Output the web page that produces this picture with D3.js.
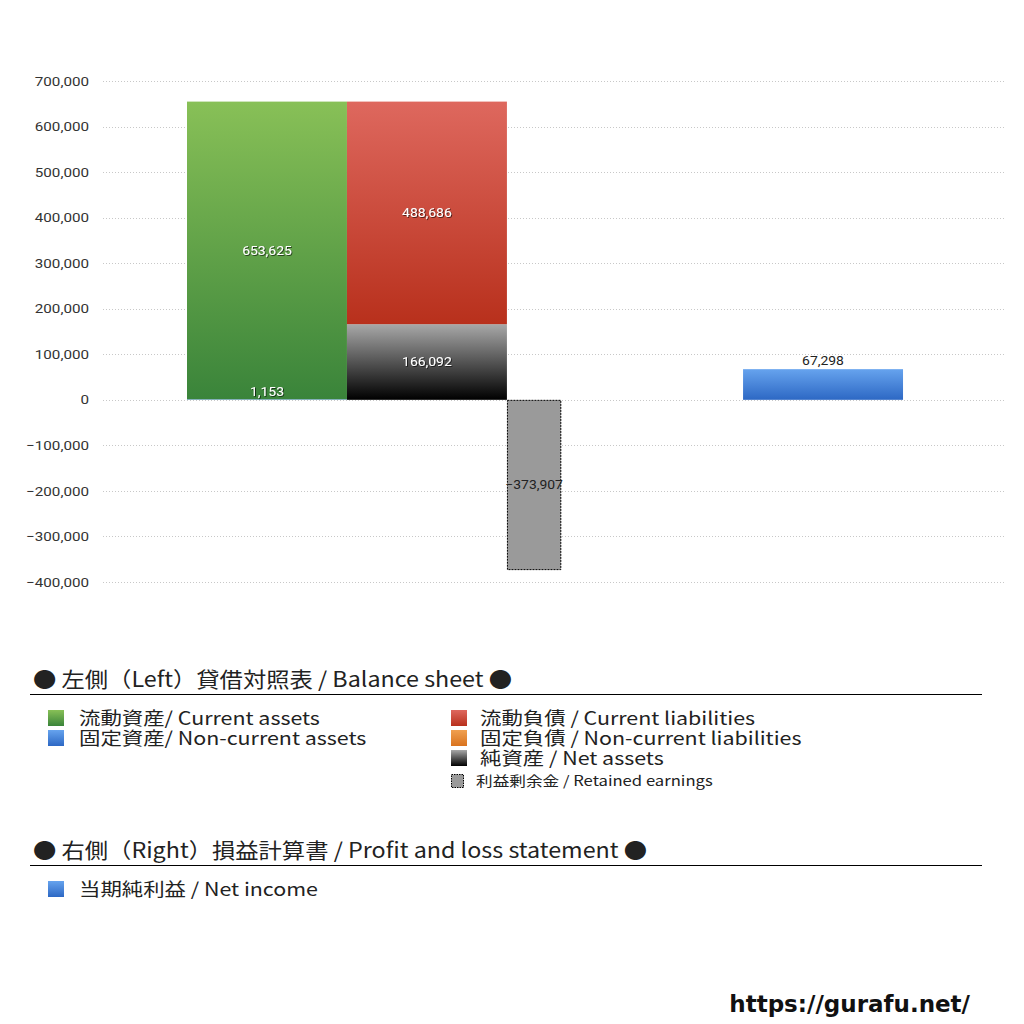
<!DOCTYPE html>
<html><head><meta charset="utf-8">
<script src="https://cdn.jsdelivr.net/npm/d3@7"></script>
<style>
body{margin:0;background:#fff;}
svg{display:block;font-family:"Noto Sans CJK JP","Noto Sans",sans-serif;}
</style></head>
<body><svg id="c" width="1024" height="1024"></svg>
<script>
// ---- data ----
const groups = ["left", "right"];
const currentAssets = 653625;
const nonCurrentAssets = 1153;
const currentLiabilities = 488686;
const nonCurrentLiabilities = 0;
const netAssets = 166092;
const retainedEarnings = -373907;
const netIncome = 67298;
const yTicks = [-400000, -300000, -200000, -100000, 0, 100000, 200000, 300000, 400000, 500000, 600000, 700000];
const legendLeftCol = ["流動資産/ Current assets", "固定資産/ Non-current assets"];
const legendRightCol = ["流動負債 /  Current liabilities", "固定負債 / Non-current liabilities", "純資産 / Net assets"];
const legendRetained = "利益剰余金 / Retained earnings";
const legendPL = ["当期純利益 / Net income"];
const header1 = "● 左側（Left）貸借対照表 / Balance sheet ●";
const header2 = "● 右側（Right）損益計算書 / Profit and loss statement ●";
const siteUrl = "https://gurafu.net/";

const svg = d3.select("#c");
const fmt = d3.format(",");
const plotL = 103, plotR = 1005;

const y = d3.scaleLinear().domain([-400000, 700000]).range([582, 81]);
const x = d3.scaleBand().domain(groups).range([187, 983]).paddingInner(0.328);
const bw = x.bandwidth() / 2;

// horizontal stretch of text about its anchor point
function stretch(sel, s) {
  sel.each(function () {
    const t = d3.select(this);
    const ax = +t.attr("x") || 0;
    const prev = t.attr("transform") || "";
    t.attr("transform", `${prev} translate(${ax},0) scale(${s},1) translate(${-ax},0)`);
  });
}

// gradients
const defs = svg.append("defs");
function grad(id, top, bottom) {
  const g = defs.append("linearGradient").attr("id", id).attr("x1", 0).attr("y1", 0).attr("x2", 0).attr("y2", 1);
  g.append("stop").attr("offset", "0%").attr("stop-color", top);
  g.append("stop").attr("offset", "100%").attr("stop-color", bottom);
}
grad("gGreen", "#88c057", "#3a843a");
grad("gBlue", "#66a3ee", "#2d68c4");
grad("gRed", "#de685e", "#b8301c");
grad("gOrange", "#f0a050", "#d9731e");
grad("gBlack", "#a8a8a8", "#000000");
const sh = defs.append("filter").attr("id", "shadow").attr("x", "-20%").attr("y", "-50%").attr("width", "140%").attr("height", "200%");
sh.append("feDropShadow").attr("dx", 0.8).attr("dy", 0.8).attr("stdDeviation", 0.4).attr("flood-color", "#000").attr("flood-opacity", 0.7);

// grid + y axis
const yAxis = d3.axisLeft(y).tickValues(yTicks).tickFormat(fmt).tickSize(0).tickPadding(14);
const ga = svg.append("g").attr("transform", `translate(${plotL},0)`).call(yAxis);
ga.select(".domain").remove();
ga.selectAll("text").attr("font-size", 13).attr("fill", "#333").attr("font-family", "Roboto, 'Noto Sans', sans-serif");
ga.selectAll(".tick text").each(function () {
  const t = d3.select(this);
  t.attr("transform", "scale(1.17,1)").attr("x", -14 / 1.17);
});
svg.append("g").selectAll("line").data(yTicks).join("line")
  .attr("x1", plotL).attr("x2", plotR).attr("y1", d => Math.round(y(d)) + 0.5).attr("y2", d => Math.round(y(d)) + 0.5)
  .attr("stroke", "#c8c8c8").attr("stroke-width", 1).attr("stroke-dasharray", "1,2");

// bars
const leftX = x("left");
const rightX = x("right") + x.bandwidth() / 4;
const segs = [
  {x: leftX, y0: 0, y1: nonCurrentAssets, fill: "url(#gBlue)", label: fmt(nonCurrentAssets), lc: "#fff", lab: "nca"},
  {x: leftX, y0: nonCurrentAssets, y1: nonCurrentAssets + currentAssets, fill: "url(#gGreen)", label: fmt(currentAssets), lc: "#fff"},
  {x: leftX + bw, y0: 0, y1: netAssets, fill: "url(#gBlack)", label: fmt(netAssets), lc: "#fff"},
  {x: leftX + bw, y0: netAssets, y1: netAssets + nonCurrentLiabilities, fill: "url(#gOrange)", label: null},
  {x: leftX + bw, y0: netAssets + nonCurrentLiabilities, y1: netAssets + nonCurrentLiabilities + currentLiabilities, fill: "url(#gRed)", label: fmt(currentLiabilities), lc: "#fff"}
];
const bars = svg.append("g");
bars.selectAll("rect").data(segs.filter(d => d.y1 !== d.y0)).join("rect")
  .attr("x", d => d.x).attr("width", bw)
  .attr("y", d => y(Math.max(d.y0, d.y1))).attr("height", d => Math.abs(y(d.y0) - y(d.y1)))
  .attr("fill", d => d.fill);

// retained earnings
const reW = bw * 0.34;
const reX = leftX + 2 * bw;
svg.append("rect").attr("x", reX + 0.5).attr("y", y(0) + 0.5).attr("width", reW - 1).attr("height", y(retainedEarnings) - y(0) - 1)
  .attr("fill", "#9a9a9a").attr("stroke", "#000").attr("stroke-width", 1).attr("stroke-dasharray", "2,1");

// net income
svg.append("rect").attr("x", rightX).attr("width", bw).attr("y", y(netIncome)).attr("height", y(0) - y(netIncome)).attr("fill", "url(#gBlue)");

// labels
const lg = svg.append("g").attr("font-size", 12).attr("text-anchor", "middle").attr("font-family", "Roboto, 'Noto Sans', sans-serif");
segs.filter(d => d.label).forEach(d => {
  let cy = (y(d.y0) + y(d.y1)) / 2;
  if (d.lab === "nca") cy = y(d.y1) - 7;
  lg.append("text").attr("x", d.x + bw / 2).attr("y", cy).attr("dy", "0.35em").attr("fill", d.lc).attr("filter", "url(#shadow)").text(d.label);
});
lg.append("text").attr("x", reX + reW / 2).attr("y", (y(0) + y(retainedEarnings)) / 2).attr("dy", "0.35em").attr("fill", "#222").text(fmt(retainedEarnings));
lg.append("text").attr("x", rightX + bw / 2).attr("y", y(netIncome) - 4).attr("fill", "#222").text(fmt(netIncome));
stretch(lg.selectAll("text"), 1.16);

// legend
const leg = svg.append("g").attr("fill", "#222");
const h1 = leg.append("text").attr("x", 33).attr("y", 687).attr("font-size", 21).text(header1);
leg.append("line").attr("x1", 30).attr("x2", 982).attr("y1", 694.5).attr("y2", 694.5).attr("stroke", "#000");
const sw = [["url(#gGreen)", "url(#gBlue)"], ["url(#gRed)", "url(#gOrange)", "url(#gBlack)"]];
const items = [];
legendLeftCol.forEach((t, i) => {
  leg.append("rect").attr("x", 48).attr("y", 710 + i * 20).attr("width", 16).attr("height", 16).attr("fill", sw[0][i]);
  items.push(leg.append("text").attr("x", 79).attr("y", 725 + i * 20).attr("font-size", 18).text(t));
});
legendRightCol.forEach((t, i) => {
  leg.append("rect").attr("x", 451).attr("y", 710 + i * 20).attr("width", 16).attr("height", 16).attr("fill", sw[1][i]);
  items.push(leg.append("text").attr("x", 480).attr("y", 725 + i * 20).attr("font-size", 18).text(t));
});
leg.append("rect").attr("x", 451.5).attr("y", 774.5).attr("width", 12).attr("height", 13)
  .attr("fill", "#9a9a9a").attr("stroke", "#000").attr("stroke-dasharray", "1.5,1");
items.push(leg.append("text").attr("x", 476).attr("y", 786).attr("font-size", 14).text(legendRetained));

const h2 = leg.append("text").attr("x", 33).attr("y", 858).attr("font-size", 21).text(header2);
leg.append("line").attr("x1", 30).attr("x2", 982).attr("y1", 865.5).attr("y2", 865.5).attr("stroke", "#000");
legendPL.forEach((t, i) => {
  leg.append("rect").attr("x", 48).attr("y", 881 + i * 20).attr("width", 16).attr("height", 16).attr("fill", "url(#gBlue)");
  items.push(leg.append("text").attr("x", 79).attr("y", 896 + i * 20).attr("font-size", 18).text(t));
});
items.forEach(s => stretch(s, 1.19));
stretch(h1, 1.11);
stretch(h2, 1.11);

svg.append("text").attr("x", 970).attr("y", 1012).attr("text-anchor", "end").attr("font-size", 23)
  .attr("font-weight", "bold").attr("font-family", "'DejaVu Sans', sans-serif").attr("fill", "#111").text(siteUrl);
</script></body></html>
